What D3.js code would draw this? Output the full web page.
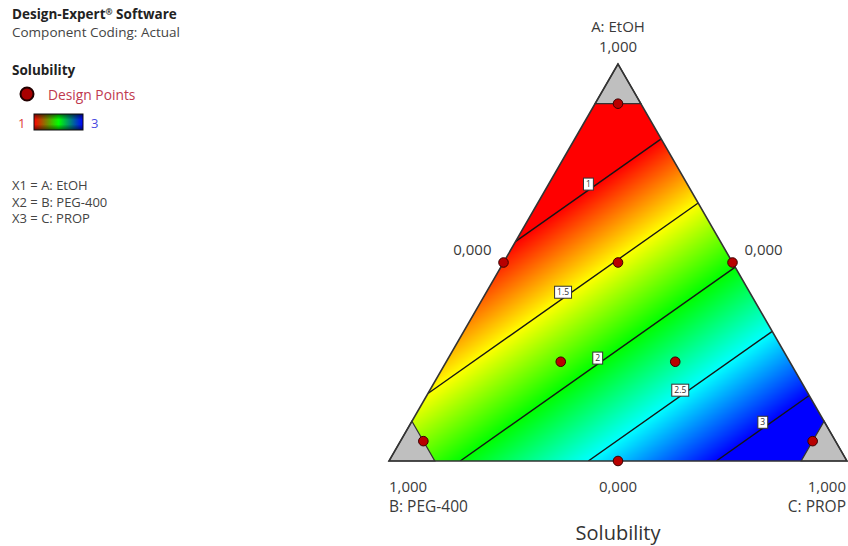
<!DOCTYPE html>
<html>
<head>
<meta charset="utf-8">
<script src="https://cdn.jsdelivr.net/npm/d3@7"></script>
<style>
  html, body { margin: 0; padding: 0; background: #fff; }
  svg { display: block; font-family: "Open Sans", "Noto Sans", sans-serif; }
</style>
</head>
<body>
<svg id="chart" width="848" height="546"></svg>
<script>
// Mixture components (A at top, B bottom-left, C bottom-right)
const componentNames = ["A: EtOH", "B: PEG-400", "C: PROP"];
const codingLines = ["X1 = A: EtOH", "X2 = B: PEG-400", "X3 = C: PROP"];
// Linear mixture model for Solubility: Y = bA*A + bB*B + bC*C
const modelCoefs = [0.417, 1.722, 3.51];
// Upper limit of each component (corners above it are shaded out)
const upperBounds = [0.9, 0.9, 0.9];
// Contour levels and their labels
const contourLevels = [1, 1.5, 2, 2.5, 3];
const contourLabels = ["1", "1.5", "2", "2.5", "3"];
// Colour ramp
const colorStops = [1, 1.5, 2, 2.5, 3];
const colorRange = ["#ff0000", "#ffff00", "#00ff00", "#00ffff", "#0000ff"];
const legendMin = "1", legendMax = "3";
// Design points (component fractions)
const designA = [0.9, 0.05, 0.05, 0.5, 0.5, 0.0, 0.5, 0.25, 0.25];
const designB = [0.05, 0.9, 0.05, 0.5, 0.0, 0.5, 0.25, 0.5, 0.25];
const designC = [0.05, 0.05, 0.9, 0.0, 0.5, 0.5, 0.25, 0.25, 0.5];
// Axis tick labels
const vertexTick = "1,000";
const edgeTick = "0,000";

const svg = d3.select("#chart");

// Ternary frame: base coordinate and height (fraction of A)
const xScale = d3.scaleLinear().domain([0, 1]).range([389, 847]);
const yScale = d3.scaleLinear().domain([0, 1]).range([461, 64]);
const project = (a, b, c) => [xScale(c + a / 2), yScale(a)];
const model = (a, b, c) => modelCoefs[0] * a + modelCoefs[1] * b + modelCoefs[2] * c;
const color = d3.scaleLinear().domain(colorStops).range(colorRange).clamp(true);

const units = [[1, 0, 0], [0, 1, 0], [0, 0, 1]];
const verts = units.map(u => project(...u));

// ---------- colour field ----------
const x0 = Math.floor(xScale(0)), x1 = Math.ceil(xScale(1));
const y0 = Math.floor(yScale(1)), y1 = Math.ceil(yScale(0));
const cw = x1 - x0 + 1, ch = y1 - y0 + 1;
const canvas = document.createElement("canvas");
canvas.width = cw; canvas.height = ch;
const ctx = canvas.getContext("2d");
const img = ctx.createImageData(cw, ch);
for (let j = 0; j < ch; j++) {
  for (let i = 0; i < cw; i++) {
    const px = x0 + i + 0.5, py = y0 + j + 0.5;
    const a = yScale.invert(py);
    const c = xScale.invert(px) - a / 2;
    const b = 1 - a - c;
    if (a < -0.003 || b < -0.003 || c < -0.003) continue;
    const col = d3.rgb(color(model(a, b, c)));
    const k = (j * cw + i) * 4;
    img.data[k] = col.r; img.data[k + 1] = col.g; img.data[k + 2] = col.b; img.data[k + 3] = 255;
  }
}
ctx.putImageData(img, 0, 0);

const defs = svg.append("defs");
defs.append("clipPath").attr("id", "tri")
  .append("path").attr("d", "M" + verts.join("L") + "Z");

svg.append("image")
  .attr("x", x0).attr("y", y0).attr("width", cw).attr("height", ch)
  .attr("href", canvas.toDataURL())
  .attr("clip-path", "url(#tri)");

// ---------- contour lines ----------
const vertexVals = units.map(u => model(...u));
const edges = [[0, 1], [1, 2], [2, 0]];
const line = d3.line();
const contourG = svg.append("g").attr("clip-path", "url(#tri)");
const labelData = [];
contourLevels.forEach((L, li) => {
  const pts = [];
  edges.forEach(([i, j]) => {
    const vi = vertexVals[i], vj = vertexVals[j];
    if (vi === vj || (L - vi) * (L - vj) > 0) return;
    const t = (L - vi) / (vj - vi);
    const comp = [0, 1, 2].map(k => units[i][k] * (1 - t) + units[j][k] * t);
    pts.push(project(...comp));
  });
  if (pts.length < 2) return;
  const seg = [pts[0], pts[1]];
  contourG.append("path")
    .attr("d", line(seg))
    .attr("fill", "none")
    .attr("stroke", "#161616")
    .attr("stroke-width", 1.4);
  labelData.push({ text: contourLabels[li], x: (seg[0][0] + seg[1][0]) / 2, y: (seg[0][1] + seg[1][1]) / 2 });
});

// ---------- shaded (excluded) corners ----------
units.forEach((u, k) => {
  const ub = upperBounds[k];
  const others = [0, 1, 2].filter(m => m !== k);
  const p1 = [0, 0, 0], p2 = [0, 0, 0];
  p1[k] = ub; p1[others[0]] = 1 - ub;
  p2[k] = ub; p2[others[1]] = 1 - ub;
  const poly = [project(...u), project(...p1), project(...p2)];
  svg.append("path")
    .attr("d", "M" + poly.join("L") + "Z")
    .attr("fill", "#bfbfbf")
    .attr("stroke", "#333")
    .attr("stroke-width", 1.2);
});

// Triangle outline
svg.append("path")
  .attr("d", "M" + verts.join("L") + "Z")
  .attr("fill", "none")
  .attr("stroke", "#333")
  .attr("stroke-width", 1.6)
  .attr("stroke-linejoin", "miter");

// Contour labels
labelData.forEach(d => {
  const g = svg.append("g").attr("transform", `translate(${d.x},${d.y - 6})`);
  const t = g.append("text").text(d.text)
    .attr("text-anchor", "middle").attr("dy", "0.35em")
    .attr("font-size", 8.5).attr("fill", "#333");
  const w = t.node().getComputedTextLength() + 5;
  g.insert("rect", "text")
    .attr("x", -w / 2).attr("y", -6).attr("width", w).attr("height", 12)
    .attr("fill", "#fff").attr("stroke", "#333").attr("stroke-width", 1);
});

// Design points
svg.append("g").selectAll("circle")
  .data(designA.map((a, i) => [a, designB[i], designC[i]]))
  .join("circle")
  .attr("cx", d => project(...d)[0])
  .attr("cy", d => project(...d)[1])
  .attr("r", 4.8)
  .attr("fill", "#b80000")
  .attr("stroke", "#3a0000")
  .attr("stroke-width", 1);

// ---------- axis texts ----------
const axisText = (txt, x, y, anchor, size = 15, fill = "#3a3a3a") =>
  svg.append("text").text(txt).attr("x", x).attr("y", y)
    .attr("text-anchor", anchor).attr("font-size", size).attr("fill", fill);

const [vA, vB, vC] = verts;
axisText(componentNames[0], vA[0], 32, "middle");
axisText(vertexTick, vA[0], 52, "middle");
axisText(vertexTick, vB[0], 492, "start");
axisText(componentNames[1], vB[0], 512, "start", 15.5);
axisText(vertexTick, vC[0] - 1, 492, "end");
axisText(componentNames[2], vC[0] - 1, 512, "end", 15.5);

const mAB = project(0.5, 0.5, 0), mAC = project(0.5, 0, 0.5), mBC = project(0, 0.5, 0.5);
axisText(edgeTick, mAB[0] - 12, mAB[1] - 8, "end");
axisText(edgeTick, mAC[0] + 12, mAC[1] - 8, "start");
axisText(edgeTick, mBC[0], 492, "middle");

axisText("Solubility", mBC[0], 540, "middle", 20, "#333");

// ---------- header and legend ----------
const hdr = svg.append("text").attr("x", 12).attr("y", 19)
  .attr("font-size", 13.5).attr("font-weight", "bold").attr("fill", "#222");
hdr.append("tspan").text("Design-Expert");
hdr.append("tspan").text("®").attr("font-size", 8.5).attr("dy", -4);
hdr.append("tspan").text(" Software").attr("dy", 4);

svg.append("text").text("Component Coding: Actual").attr("x", 12).attr("y", 37)
  .attr("font-size", 13.5).attr("fill", "#444");

svg.append("text").text("Solubility").attr("x", 12).attr("y", 75)
  .attr("font-size", 13.5).attr("font-weight", "bold").attr("fill", "#222");

svg.append("circle").attr("cx", 27).attr("cy", 94).attr("r", 6.5)
  .attr("fill", "#a80000").attr("stroke", "#220000").attr("stroke-width", 2);
svg.append("text").text("Design Points").attr("x", 48).attr("y", 100)
  .attr("font-size", 13.8).attr("fill", "#c0394e");

// Gradient swatch
const lg = defs.append("linearGradient").attr("id", "ramp")
  .attr("x1", "0%").attr("x2", "100%");
[["0%", "#ff0000"], ["50%", "#00ff00"], ["100%", "#0000ff"]].forEach(([o, c]) =>
  lg.append("stop").attr("offset", o).attr("stop-color", c));
const shade = defs.append("linearGradient").attr("id", "shade")
  .attr("x1", "0%").attr("x2", "0%").attr("y1", "0%").attr("y2", "100%");
[["0%", 0.55], ["35%", 0], ["65%", 0], ["100%", 0.55]].forEach(([o, a]) =>
  shade.append("stop").attr("offset", o).attr("stop-color", "#000").attr("stop-opacity", a));
svg.append("rect").attr("x", 34).attr("y", 114).attr("width", 49).attr("height", 16)
  .attr("fill", "url(#ramp)");
svg.append("rect").attr("x", 34).attr("y", 114).attr("width", 49).attr("height", 16)
  .attr("fill", "url(#shade)").attr("stroke", "#111").attr("stroke-width", 1);
svg.append("text").text(legendMin).attr("x", 18).attr("y", 128)
  .attr("font-size", 13).attr("fill", "#e03a3a");
svg.append("text").text(legendMax).attr("x", 91).attr("y", 128)
  .attr("font-size", 13).attr("fill", "#4a4ae0");

// Component coding lines
codingLines.forEach((t, i) =>
  svg.append("text").text(t).attr("x", 12).attr("y", 190 + i * 16.5)
    .attr("font-size", 13).attr("fill", "#444"));
</script>
</body>
</html>
